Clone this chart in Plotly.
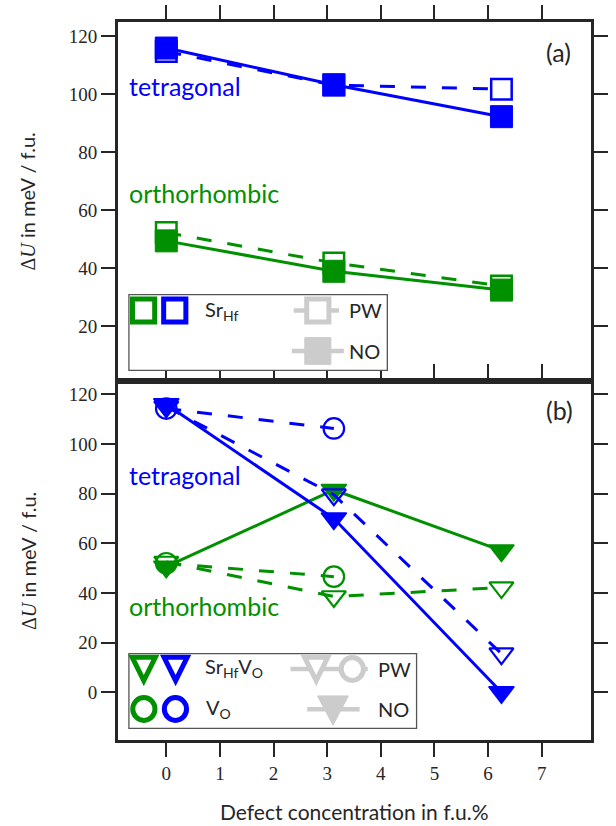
import plotly.graph_objects as go

# ---------------- data ----------------
conc = [0.0, 3.125, 6.25]
conc_vo = [0.0, 3.125]
x_ticks = [0, 1, 2, 3, 4, 5, 6, 7]
ya_ticks = [20, 40, 60, 80, 100, 120]
yb_ticks = [0, 20, 40, 60, 80, 100, 120]

# panel (a): Sr_Hf
a_tet_pw = [114.8, 103.2, 101.8]
a_tet_no = [116.0, 103.3, 92.3]
a_ort_pw = [52.3, 41.8, 33.8]
a_ort_no = [49.4, 38.9, 32.4]

# panel (b): Sr_Hf V_O and V_O
b_tet_srvo_no = [116.0, 70.0, 0.0]
b_tet_srvo_pw = [115.0, 79.6, 15.6]
b_tet_vo_pw = [114.3, 106.3]
b_ort_srvo_no = [50.6, 81.5, 57.1]
b_ort_srvo_pw = [52.5, 38.6, 42.2]
b_ort_vo_pw = [52.0, 46.6]

# ---------------- style ----------------
W, H = 616, 826
ML, MR, MT, MB = 118, 8, 15, 86
PWD = W - ML - MR
PHT = H - MT - MB
BLUE = "#0000ff"
GREEN = "#009000"
GREY = "#cccccc"
DARK = "#262626"
SANS = "Lato"
SERIF = "Liberation Serif, DejaVu Serif, serif"
DASH = "15px,16px"


def fx(p):
    return (p - ML) / PWD


def fy(p):
    return (H - MB - p) / PHT


fig = go.Figure()


def add(x, y, xa, ya, color, dash, symbol, size, lw_m, fill=None):
    fig.add_trace(go.Scatter(
        x=x, y=y, xaxis=xa, yaxis=ya, mode="lines+markers",
        line=dict(color=color, width=3, dash=dash),
        marker=dict(symbol=symbol, size=size,
                    color=fill if fill else color,
                    line=dict(color=color, width=lw_m)),
        cliponaxis=False, hoverinfo="skip"))


# panel (a)
add(conc, a_ort_pw, "x", "y", GREEN, DASH, "square", 20.5, 2.5, "white")
add(conc, a_ort_no, "x", "y", GREEN, "solid", "square", 22, 1)
add(conc, a_tet_pw, "x", "y", BLUE, DASH, "square", 20.5, 2.5, "white")
add(conc, a_tet_no, "x", "y", BLUE, "solid", "square", 22, 1)

# panel (b)
add(conc, b_ort_srvo_no, "x2", "y2", GREEN, "solid", "triangle-down", 22, 1.5)
add(conc, b_ort_srvo_pw, "x2", "y2", GREEN, DASH, "triangle-down-open", 21, 2.2)
add(conc_vo, b_ort_vo_pw, "x2", "y2", GREEN, DASH, "circle-open", 20.5, 2.2)
add(conc, b_tet_srvo_no, "x2", "y2", BLUE, "solid", "triangle-down", 22, 1.5)
add(conc, b_tet_srvo_pw, "x2", "y2", BLUE, DASH, "triangle-down-open", 21, 2.2)
add(conc_vo, b_tet_vo_pw, "x2", "y2", BLUE, DASH, "circle-open", 20.5, 2.2)

axis_common = dict(showline=True, linewidth=3, linecolor=DARK, ticks="outside",
                   ticklen=14, tickwidth=2, tickcolor=DARK, showgrid=False,
                   zeroline=False, tickfont=dict(family=SERIF, size=19, color=DARK))

shapes = []
annotations = []


def txt(x, y, s, size, color=DARK, xanchor="left", family=SANS, angle=0):
    annotations.append(dict(x=fx(x), y=fy(y), xref="paper", yref="paper", text=s,
                            showarrow=False, xanchor=xanchor, yanchor="middle",
                            textangle=angle,
                            font=dict(family=family, size=size, color=color)))


def rect(cx, cy, s, lw, color, fill):
    h = (s - lw) / 2
    shapes.append(dict(type="rect", xref="paper", yref="paper",
                       x0=fx(cx - h), x1=fx(cx + h), y0=fy(cy + h), y1=fy(cy - h),
                       line=dict(color=color, width=lw), fillcolor=fill, layer="above"))


def circ(cx, cy, s, lw, color, fill):
    h = (s - lw) / 2
    shapes.append(dict(type="circle", xref="paper", yref="paper",
                       x0=fx(cx - h), x1=fx(cx + h), y0=fy(cy + h), y1=fy(cy - h),
                       line=dict(color=color, width=lw), fillcolor=fill, layer="above"))


def tri(cx, cy, w, h, lw, color, fill):
    hw = (w - lw) / 2
    top = cy - h / 2 + lw / 2
    bot = cy + h / 2 - lw
    path = "M {} {} L {} {} L {} {} Z".format(fx(cx - hw), fy(top), fx(cx + hw), fy(top),
                                              fx(cx), fy(bot))
    shapes.append(dict(type="path", xref="paper", yref="paper", path=path,
                       line=dict(color=color, width=lw), fillcolor=fill, layer="above"))


def hline(x0, x1, y, lw, color):
    shapes.append(dict(type="line", xref="paper", yref="paper", x0=fx(x0), x1=fx(x1),
                       y0=fy(y), y1=fy(y), line=dict(color=color, width=lw), layer="above"))


def box(x0, y0, x1, y1):
    shapes.append(dict(type="rect", xref="paper", yref="paper", x0=fx(x0), x1=fx(x1),
                       y0=fy(y1), y1=fy(y0), line=dict(color="#555555", width=1.3),
                       fillcolor="white", layer="above"))


# legend (a)
box(129.3, 290.3, 397, 366.7)
rect(144.5, 306.3, 28, 5, GREEN, "white")
rect(176.8, 306.3, 28, 5, BLUE, "white")
hline(300, 347, 306.3, 4.5, GREY)
rect(325, 306.3, 28, 5, GREY, "white")
hline(298, 352, 347.2, 4.5, GREY)
rect(325, 347.2, 28, 1, GREY, GREY)
txt(206, 306.3, "Sr<sub>Hf</sub>", 20)
txt(355, 306.3, "PW", 20)
txt(355, 347.2, "NO", 20)

# legend (b)
box(129.3, 652.7, 427.3, 728.3)
tri(144.7, 669.5, 29, 31, 5, GREEN, "white")
tri(177.7, 669.5, 29, 31, 5, BLUE, "white")
circ(144.8, 708.7, 28, 5, GREEN, "white")
circ(177.5, 708.7, 28, 5, BLUE, "white")
hline(296.7, 376.7, 668.3, 4.5, GREY)
tri(323.3, 669.5, 29, 31, 5, GREY, "white")
circ(360.7, 668.3, 28, 5, GREY, "white")
hline(314, 368.3, 709, 4.5, GREY)
tri(340.7, 710.5, 33, 31, 1, GREY, GREY)
txt(206, 666.7, "Sr<sub>Hf</sub>V<sub>O</sub>", 20)
txt(207.3, 708.3, "V<sub>O</sub>", 20)
txt(385, 668.3, "PW", 20)
txt(385, 709, "NO", 20)

# panel texts
txt(127, 80, "tetragonal", 25, BLUE)
txt(127, 188, "orthorhombic", 25, GREEN)
txt(127, 472, "tetragonal", 25, BLUE)
txt(127, 605, "orthorhombic", 25, GREEN)
txt(574, 45, "(a)", 25, DARK, "center")
txt(575, 407, "(b)", 25, DARK, "center")

ylab = '<span style="font-family:Liberation Serif">Δ<i>U</i></span> in meV / f.u.'
txt(24, 196, ylab, 20, DARK, "center", SANS, -90)
txt(24, 559, ylab, 20, DARK, "center", SANS, -90)
txt(363, 812, "Defect concentration in f.u.%", 21, DARK, "center")

fig.update_layout(
    width=W, height=H, margin=dict(l=ML, r=MR, t=MT, b=MB),
    paper_bgcolor="white", plot_bgcolor="white", showlegend=False,
    xaxis=dict(axis_common, domain=[0, 1], anchor="y", side="top", range=[-0.9, 7.92],
               tickvals=x_ticks, showticklabels=False, mirror=True),
    yaxis=dict(axis_common, domain=[0.5, 1], anchor="x", range=[1, 125],
               tickvals=ya_ticks, mirror="ticks"),
    xaxis2=dict(axis_common, domain=[0, 1], anchor="y2", range=[-0.9, 7.92],
                tickvals=x_ticks, mirror="ticks"),
    yaxis2=dict(axis_common, domain=[0, 0.5], anchor="x2", range=[-19.2, 125.4],
                tickvals=yb_ticks, mirror="ticks"),
    shapes=shapes, annotations=annotations,
)

fig.write_html("out.html",
               config={"displayModeBar": False, "staticPlot": True},
               post_script="document.body.style.margin='0px';document.body.style.overflow='hidden';")
